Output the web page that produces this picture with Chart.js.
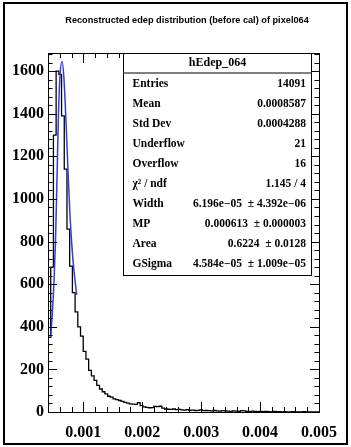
<!DOCTYPE html>
<html>
<head>
<meta charset="utf-8">
<script src="https://cdn.jsdelivr.net/npm/chart.js@4"></script>
<style>
  html, body { margin: 0; padding: 0; background: #fff; }
  canvas { display: block; }
</style>
</head>
<body>
<canvas id="hEdep" width="351" height="447"></canvas>
<script>
const titulo = 'Reconstructed edep distribution (before cal) of pixel064';

// histogram axis: 100 bins from xMin to xMax
const xMin = 0.0004;
const xMax = 0.005;
const nBins = 100;

const counts = [
  94, 350, 680, 1300, 1600, 1585, 1390, 1140, 858, 685,
  560, 470, 400, 356, 285, 248, 195, 170, 148, 125,
  108, 95, 85, 74, 70, 62, 58, 54, 50, 45,
  42, 38, 37, 36, 44, 30, 24, 22, 20, 21,
  26, 25, 27, 18, 14, 13, 12, 14, 11, 12,
  10, 9, 11, 8, 9, 7, 8, 10, 6, 7,
  6, 5, 7, 5, 4, 6, 5, 4, 3, 5,
  4, 3, 6, 5, 3, 2, 4, 3, 2, 3,
  2, 3, 2, 1, 3, 2, 2, 1, 2, 1,
  1, 2, 1, 1, 0, 2, 1, 1, 0, 1
];

// fit curve
const fitX = [0.000446, 0.000468, 0.000502, 0.000527, 0.000553, 0.000578, 0.000604, 0.000638,
              0.000672, 0.000706, 0.000740, 0.000774, 0.000816, 0.000850, 0.000887];
const fitY = [350, 440, 610, 800, 1100, 1400, 1580, 1645, 1560, 1360, 1130, 920, 740, 640, 550];

const xTicks = [0.001, 0.002, 0.003, 0.004, 0.005];
const yTicks = [0, 200, 400, 600, 800, 1000, 1200, 1400, 1600];
const yMax = 1685;

const statTitle = 'hEdep_064';
const statNames = ['Entries', 'Mean', 'Std Dev', 'Underflow', 'Overflow', 'χ² / ndf', 'Width', 'MP', 'Area', 'GSigma'];
const statValues = ['14091', '0.0008587', '0.0004288', '21', '16', '1.145 / 4',
  '6.196e\u221205  \u00b1 4.392e\u221206', '0.000613  \u00b1 0.000003', '0.6224  \u00b1 0.0128',
  '4.584e\u221205  \u00b1 1.009e\u221205'];

const binWidth = (xMax - xMin) / nBins;
const histPoints = [{ x: xMin, y: 0 }]
  .concat(counts.map((c, i) => ({ x: xMin + i * binWidth, y: c })))
  .concat([{ x: xMax, y: counts[counts.length - 1] }]);
const fitPoints = fitX.map((x, i) => ({ x: x, y: fitY[i] }));

const serif = 'Liberation Serif, Times New Roman, serif';

const rootFrame = {
  id: 'rootFrame',
  beforeDraw(chart) {
    const ctx = chart.ctx;
    ctx.save();
    ctx.fillStyle = '#fff';
    ctx.fillRect(0, 0, chart.width, chart.height);
    ctx.restore();
  },
  afterDatasetsDraw(chart) {
    const { ctx, chartArea: a, scales: { x, y } } = chart;
    ctx.save();
    ctx.strokeStyle = '#000';
    ctx.lineWidth = 1;
    ctx.strokeRect(Math.round(a.left) + 0.5, Math.round(a.top) + 0.5,
      Math.round(a.right - a.left), Math.round(a.bottom - a.top));
    ctx.beginPath();
    // x ticks, 5 minor divisions
    for (let v = 0.0004; v <= xMax + 1e-9; v += 0.0002) {
      const px = Math.round(x.getPixelForValue(v)) + 0.5;
      const major = Math.abs(v / 0.001 - Math.round(v / 0.001)) < 1e-6;
      const len = major ? 10 : 5;
      ctx.moveTo(px, a.bottom); ctx.lineTo(px, a.bottom - len);
      ctx.moveTo(px, a.top); ctx.lineTo(px, a.top + len);
    }
    // y ticks
    for (let v = 0; v <= yMax; v += 40) {
      const py = Math.round(y.getPixelForValue(v)) + 0.5;
      const len = v % 200 === 0 ? 9 : 4.5;
      ctx.moveTo(a.left, py); ctx.lineTo(a.left + len, py);
      ctx.moveTo(a.right, py); ctx.lineTo(a.right - len, py);
    }
    ctx.stroke();
    ctx.restore();
  },
  afterDraw(chart) {
    const ctx = chart.ctx;
    ctx.save();
    // canvas border
    ctx.strokeStyle = '#000';
    ctx.lineWidth = 2;
    ctx.strokeRect(4, 3, 343, 441);

    // title
    ctx.fillStyle = '#000';
    ctx.font = 'bold 9.2px Liberation Sans, Arial, sans-serif';
    ctx.textAlign = 'center';
    ctx.textBaseline = 'middle';
    ctx.fillText(titulo, 187, 20);

    // stat box
    const bx = 123.5, by = 53.5, bw = 188, bh = 222;
    ctx.fillStyle = '#fff';
    ctx.fillRect(bx, by, bw, bh);
    ctx.lineWidth = 1;
    ctx.strokeStyle = '#000';
    ctx.strokeRect(bx, by, bw, bh);
    ctx.beginPath();
    ctx.lineWidth = 1.5;
    ctx.strokeStyle = '#555';
    ctx.moveTo(bx, 73); ctx.lineTo(bx + bw, 73);
    ctx.stroke();

    ctx.fillStyle = '#000';
    ctx.font = 'bold 12px ' + serif;
    ctx.textAlign = 'center';
    ctx.fillText(statTitle, bx + bw / 2, 63);

    ctx.font = 'bold 11.5px ' + serif;
    statNames.forEach((n, i) => {
      const ty = 84 + i * 20;
      ctx.textAlign = 'left';
      ctx.fillText(n, 132.5, ty);
      ctx.textAlign = 'right';
      ctx.fillText(statValues[i], 306, ty);
    });
    ctx.restore();
  }
};

new Chart(document.getElementById('hEdep'), {
  type: 'line',
  data: {
    datasets: [
      {
        label: 'fit',
        data: fitPoints,
        borderColor: '#3a3ad8',
        borderWidth: 1.5,
        backgroundColor: 'transparent',
        cubicInterpolationMode: 'monotone',
        pointRadius: 0,
        order: 0
      },
      {
        label: statTitle,
        data: histPoints,
        borderColor: '#000',
        borderWidth: 1.3,
        backgroundColor: 'transparent',
        stepped: 'after',
        pointRadius: 0,
        order: 1
      }
    ]
  },
  options: {
    responsive: false,
    animation: false,
    layout: { padding: { top: 53, right: 32, left: 0, bottom: 0 } },
    plugins: { legend: { display: false }, tooltip: { enabled: false }, title: { display: false } },
    scales: {
      x: {
        type: 'linear',
        min: xMin,
        max: xMax,
        afterBuildTicks: s => { s.ticks = xTicks.map(v => ({ value: v })); },
        afterFit: s => { s.height = 35; },
        grid: { display: false, drawTicks: false },
        border: { display: false },
        ticks: {
          color: '#000',
          font: { family: serif, weight: 'bold', size: 16 },
          padding: 11,
          maxRotation: 0,
          autoSkip: false,
          callback: v => v.toFixed(3)
        }
      },
      y: {
        type: 'linear',
        min: 0,
        max: yMax,
        afterBuildTicks: s => { s.ticks = yTicks.map(v => ({ value: v })); },
        afterFit: s => { s.width = 48; },
        grid: { display: false, drawTicks: false },
        border: { display: false },
        ticks: {
          color: '#000',
          font: { family: serif, weight: 'bold', size: 16 },
          padding: 4,
          autoSkip: false,
          callback: v => String(v)
        }
      }
    }
  },
  plugins: [rootFrame]
});
</script>
</body>
</html>
